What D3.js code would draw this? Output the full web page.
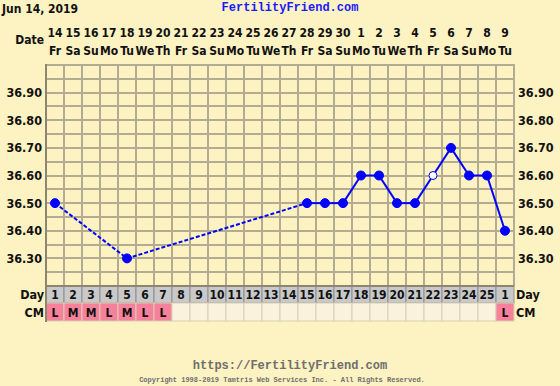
<!DOCTYPE html>
<html>
<head>
<meta charset="utf-8">
<script src="https://cdn.jsdelivr.net/npm/d3@7"></script>
<style>
  html, body { margin: 0; padding: 0; background: #fdf2c1; }
  svg { display: block; }
  .lbl { font-family: "DejaVu Sans Condensed", "DejaVu Sans", Verdana, sans-serif; font-stretch: condensed; font-weight: bold; fill: #111; }
  .mono { font-family: "Liberation Mono", "Courier New", monospace; font-weight: bold; }
</style>
</head>
<body>
<svg id="chart" width="560" height="386"></svg>
<script>
// chart data
var chartDate = 'Jun 14, 2019',
    dates = ['14','15','16','17','18','19','20','21','22','23','24','25','26','27','28','29','30',
             '1','2','3','4','5','6','7','8','9'],
    weekdays = ['Fr','Sa','Su','Mo','Tu','We','Th','Fr','Sa','Su','Mo','Tu','We','Th','Fr','Sa','Su',
                'Mo','Tu','We','Th','Fr','Sa','Su','Mo','Tu'],
    cycleDays = ['1','2','3','4','5','6','7','8','9','10','11','12','13','14','15','16','17',
                 '18','19','20','21','22','23','24','25','1'],
    cervical = ['L','M','M','L','M','L','L','','','','','','','','','','',
                '','','','','','','','','L'],
    temps = [36.50, null, null, null, 36.30, null, null, null, null, null, null, null, null, null,
             36.50, 36.50, 36.50, 36.60, 36.60, 36.50, 36.50, 36.60, 36.70, 36.60, 36.60, 36.40],
    openPoints = [21],   // index of the hollow marker (day 22)
    tempTicks = [36.3, 36.4, 36.5, 36.6, 36.7, 36.8, 36.9];

(function(d3) {
var svg = d3.select('#chart'),
    left = 46, right = 514, plotTop = 65, bottom = 286,
    gridColor = '#b3ab92',
    idx = d3.range(dates.length);

var x = d3.scaleBand().domain(idx).range([left, right]),
    y = d3.scaleLinear().domain([36.2, 37.0]).range([bottom, plotTop]);

// header
svg.append('text').attr('class', 'lbl').attr('x', 2).attr('y', 13)
  .style('font-size', '12px').text(chartDate);
svg.append('text').attr('class', 'mono').attr('x', 290).attr('y', 11)
  .attr('text-anchor', 'middle').style('font-size', '12px').style('fill', '#1a1aff')
  .text('FertilityFriend.com');
svg.append('text').attr('class', 'lbl').attr('x', 44).attr('y', 44)
  .attr('text-anchor', 'end').style('font-size', '12px').text('Date');

// dates + weekdays on top
function topRow(labels, ty) {
  svg.append('g').call(d3.axisTop(x).tickSize(0).tickFormat(function(i) { return labels[i]; }))
    .attr('transform', 'translate(0,' + ty + ')')
    .call(function(g) {
      g.select('.domain').remove();
      g.selectAll('text').attr('class', 'lbl').attr('dy', 0).attr('y', 0)
        .style('font-size', '12px').attr('font-family', null).attr('font-size', null);
    });
}
topRow(dates, 37);
topRow(weekdays, 55);

// grid
var hGrid = d3.range(0, 17).map(function(k) { return 36.2 + k * 0.05; });
svg.append('g').selectAll('line').data(hGrid).enter().append('line')
  .attr('x1', left).attr('x2', right)
  .attr('y1', function(d) { return Math.round(y(d)); })
  .attr('y2', function(d) { return Math.round(y(d)); })
  .attr('stroke', gridColor).attr('stroke-width', 2);
svg.append('g').selectAll('line').data(d3.range(dates.length + 1)).enter().append('line')
  .attr('x1', function(i) { return left + i * x.bandwidth(); })
  .attr('x2', function(i) { return left + i * x.bandwidth(); })
  .attr('y1', plotTop - 1).attr('y2', bottom)
  .attr('stroke', gridColor).attr('stroke-width', 2);

// temperature labels, both sides
function tempAxis(axis, tx) {
  svg.append('g').attr('transform', 'translate(' + tx + ',0)')
    .call(axis.tickValues(tempTicks).tickSize(0).tickPadding(0).tickFormat(d3.format('.2f')))
    .call(function(g) {
      g.select('.domain').remove();
      g.selectAll('text').attr('class', 'lbl').style('font-size', '12.5px')
        .attr('font-family', null).attr('font-size', null);
    });
}
tempAxis(d3.axisLeft(y), 42);
tempAxis(d3.axisRight(y), 518);

// Day / CM rows
var rowDay = [286, 303], rowCm = [303, 321];
svg.append('g').selectAll('rect').data(idx).enter().append('rect')
  .attr('x', function(i) { return x(i); }).attr('y', rowDay[0])
  .attr('width', x.bandwidth()).attr('height', rowDay[1] - rowDay[0])
  .attr('fill', '#c9c9c9').attr('stroke', '#8e8e8e').attr('stroke-width', 1);
svg.append('g').selectAll('rect').data(idx).enter().append('rect')
  .attr('x', function(i) { return x(i); }).attr('y', rowCm[0])
  .attr('width', x.bandwidth()).attr('height', rowCm[1] - rowCm[0])
  .attr('fill', function(i) { return cervical[i] ? '#f7819b' : '#fbf2dd'; })
  .attr('stroke', '#d8cfb6').attr('stroke-width', 1);
svg.append('g').selectAll('text').data(idx).enter().append('text')
  .attr('class', 'lbl').attr('text-anchor', 'middle').style('font-size', '12px')
  .attr('x', function(i) { return x(i) + x.bandwidth() / 2; }).attr('y', 299)
  .text(function(i) { return cycleDays[i]; });
svg.append('g').selectAll('text').data(idx).enter().append('text')
  .attr('class', 'lbl').attr('text-anchor', 'middle').style('font-size', '12px')
  .attr('x', function(i) { return x(i) + x.bandwidth() / 2; }).attr('y', 317)
  .text(function(i) { return cervical[i]; });
svg.append('line').attr('x1', left).attr('x2', right).attr('y1', 286).attr('y2', 286)
  .attr('stroke', '#8c8670').attr('stroke-width', 2);
svg.append('line').attr('x1', left).attr('x2', left).attr('y1', plotTop - 1).attr('y2', 322)
  .attr('stroke', '#8c8670').attr('stroke-width', 2);
[['Day', 299], ['CM', 317]].forEach(function(r) {
  svg.append('text').attr('class', 'lbl').attr('x', 44).attr('y', r[1])
    .attr('text-anchor', 'end').style('font-size', '12.5px').text(r[0]);
  svg.append('text').attr('class', 'lbl').attr('x', 516).attr('y', r[1])
    .style('font-size', '12.5px').text(r[0]);
});

// temperature line: dashed across gaps, solid between consecutive days
var pts = idx.filter(function(i) { return temps[i] != null; }),
    cx = function(i) { return x(i) + x.bandwidth() / 2; };
svg.append('g').selectAll('line').data(d3.pairs(pts)).enter().append('line')
  .attr('x1', function(s) { return cx(s[0]); }).attr('y1', function(s) { return y(temps[s[0]]); })
  .attr('x2', function(s) { return cx(s[1]); }).attr('y2', function(s) { return y(temps[s[1]]); })
  .attr('stroke', '#0000ff').attr('stroke-width', 2)
  .attr('stroke-dasharray', function(s) { return s[1] - s[0] > 1 ? '4,2' : null; });
svg.append('g').selectAll('circle').data(pts).enter().append('circle')
  .attr('cx', cx).attr('cy', function(i) { return y(temps[i]); })
  .attr('r', function(i) { return openPoints.indexOf(i) >= 0 ? 4 : 4.5; })
  .attr('fill', function(i) { return openPoints.indexOf(i) >= 0 ? '#fff' : '#0000ff'; })
  .attr('stroke', '#0000ff').attr('stroke-width', 1);

// footer
svg.append('text').attr('class', 'mono').attr('x', 290).attr('y', 369)
  .attr('text-anchor', 'middle').style('font-size', '12px').style('fill', '#6e6e6e')
  .text('https://FertilityFriend.com');
svg.append('text').attr('class', 'mono').attr('x', 282).attr('y', 382)
  .attr('text-anchor', 'middle').style('font-size', '7px').style('fill', '#6e6e6e')
  .text('Copyright 1998-2019 Tamtris Web Services Inc. - All Rights Reserved.');
})(d3);
</script>
</body>
</html>
